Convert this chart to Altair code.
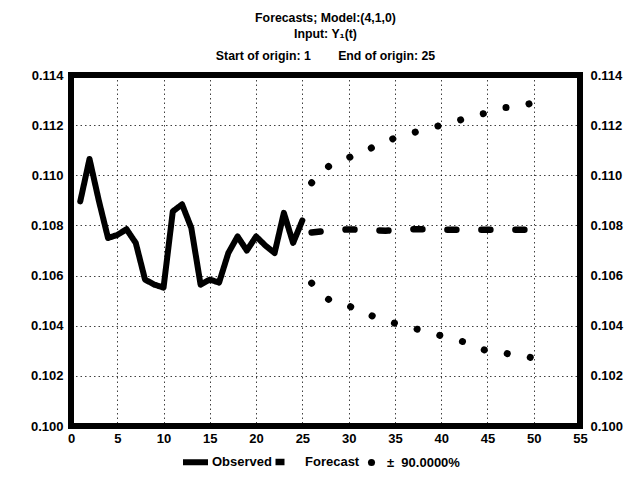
import altair as alt
import pandas as pd

# ---- data ----
obs_t = list(range(1, 26))
obs_v = [0.10896, 0.11065, 0.10900, 0.10750, 0.10762, 0.10785, 0.10730, 0.10584, 0.10564, 0.10552,
         0.10856, 0.10884, 0.10790, 0.10564, 0.10584, 0.10572, 0.10690, 0.10756, 0.10700, 0.10756,
         0.10720, 0.10690, 0.10850, 0.10730, 0.10820]
fc_t = list(range(26, 51))
fc_v = [0.10772, 0.10776, 0.10780, 0.10782, 0.10784, 0.10783, 0.10782, 0.10780, 0.10779, 0.10780,
        0.10782, 0.10785, 0.10785, 0.10783, 0.10783, 0.10783, 0.10783, 0.10783, 0.10783, 0.10783,
        0.10783, 0.10783, 0.10783, 0.10783, 0.10783]
up_v = [0.1097, 0.1101, 0.1104, 0.1106, 0.1107, 0.1109, 0.1110, 0.1112, 0.1113, 0.1115,
        0.1116, 0.1117, 0.1118, 0.1119, 0.1120, 0.1121, 0.1122, 0.1123, 0.1124, 0.1125,
        0.1126, 0.1127, 0.1127, 0.1128, 0.1129]
lo_v = [0.1057, 0.1053, 0.1050, 0.1049, 0.1048, 0.1046, 0.1045, 0.1043, 0.1042, 0.1041,
        0.1040, 0.1039, 0.1038, 0.1037, 0.1036, 0.1035, 0.1034, 0.1033, 0.1031, 0.1030,
        0.1030, 0.1029, 0.1028, 0.1028, 0.1027]

series_names = ["Observed", "Forecast", "\u00b1\u00a0\u00a090.0000%"]
y_ticks = [0.100, 0.102, 0.104, 0.106, 0.108, 0.110, 0.112, 0.114]
x_ticks = list(range(0, 56, 5))

rows = []
for t, v in zip(obs_t, obs_v):
    rows.append({"t": t, "v": v, "series": series_names[0], "part": "obs"})
for t, v in zip(fc_t, fc_v):
    rows.append({"t": t, "v": v, "series": series_names[1], "part": "fc"})
for t, v in zip(fc_t, up_v):
    rows.append({"t": t, "v": v, "series": series_names[2], "part": "up"})
for t, v in zip(fc_t, lo_v):
    rows.append({"t": t, "v": v, "series": series_names[2], "part": "lo"})
df = pd.DataFrame(rows)
df["band"] = df["series"]
df_band = df[df["part"].isin(["up", "lo"])]

FONT = "Liberation Sans"

xscale = alt.Scale(domain=[0, 55], nice=False, zero=False)
yscale = alt.Scale(domain=[0.100, 0.114], nice=False, zero=False)

x_axis = alt.Axis(
    title=None, values=x_ticks, grid=True, ticks=False, domain=False,
    labelFont=FONT, labelFontSize=13, labelFontWeight="bold", labelColor="black", labelPadding=6,
    gridColor="black", gridDash=[1.5, 3], gridWidth=1, gridOpacity=0.75,
    labelFlush=False)

line_legend = alt.Legend(
    title=None, orient="none", direction="horizontal", legendX=109, legendY=371,
    values=series_names[:2],
    symbolType="stroke", symbolSize=625, symbolStrokeColor="black",
    labelFont=FONT, labelFontSize=13, labelColor="black", labelFontWeight="bold",
    labelOffset=1, columnPadding=-17,
)

lines = alt.Chart(df).mark_line(strokeCap="round", strokeJoin="round", color="black").encode(
    x=alt.X("t:Q", scale=xscale, axis=x_axis),
    y=alt.Y("v:Q", scale=yscale, axis=alt.Axis(
        title=None, values=y_ticks, format=".3f", grid=True, ticks=False, domain=False,
        labelFont=FONT, labelFontSize=13, labelFontWeight="bold", labelColor="black", labelPadding=8,
        gridColor="black", gridDash=[1.5, 3], gridWidth=1, gridOpacity=0.75)),
    strokeDash=alt.StrokeDash("series:N", scale=alt.Scale(
        domain=series_names, range=[[1, 0], [9, 25], [0.1, 23.4]]), legend=line_legend),
    strokeWidth=alt.StrokeWidth("series:N", scale=alt.Scale(
        domain=series_names, range=[6, 7, 7.5]), legend=line_legend),
    detail="part:N",
)

band_pts = alt.Chart(df_band).mark_point(opacity=0, filled=True, color="black").encode(
    x=alt.X("t:Q", scale=xscale, axis=x_axis),
    y=alt.Y("v:Q", scale=yscale, axis=alt.Axis(
        orient="right", title=None, values=y_ticks, format=".3f", grid=False, ticks=False, domain=False,
        labelFont=FONT, labelFontSize=13, labelFontWeight="bold", labelColor="black", labelPadding=10)),
    shape=alt.Shape("band:N", scale=alt.Scale(domain=[series_names[2]], range=["circle"]),
                    legend=alt.Legend(
                        title=None, orient="none", direction="horizontal", legendX=294, legendY=381,
                        symbolType="circle", symbolSize=50, symbolFillColor="black",
                        symbolStrokeColor="black", symbolOpacity=1, symbolStrokeWidth=0,
                        labelFont=FONT, labelFontSize=13, labelColor="black", labelFontWeight="bold",
                        labelOffset=9)),
)

NB = "\u00a0"
chart = alt.layer(lines, band_pts).resolve_axis(y="independent").resolve_legend(shape="independent").properties(
    width=509, height=351,
    background="white",
    autosize=alt.AutoSizeParams(type="none"),
    padding={"left": 71, "top": 75, "right": 52, "bottom": 51},
    title=alt.TitleParams(
        text=["Forecasts; Model:(4,1,0)", "Input: Y\u2081(t)"],
        subtitle="Start of origin: 1" + NB * 8 + "End of origin: 25",
        font=FONT, fontSize=12.3, fontWeight="bold", color="black", lineHeight=16,
        subtitleFont=FONT, subtitleFontSize=12.3, subtitleFontWeight="bold", subtitleColor="black",
        subtitlePadding=9, anchor="middle", offset=7,
    ),
).configure_view(stroke="black", strokeWidth=6)

chart.save("out.html", embed_options={"renderer": "svg", "actions": False})
